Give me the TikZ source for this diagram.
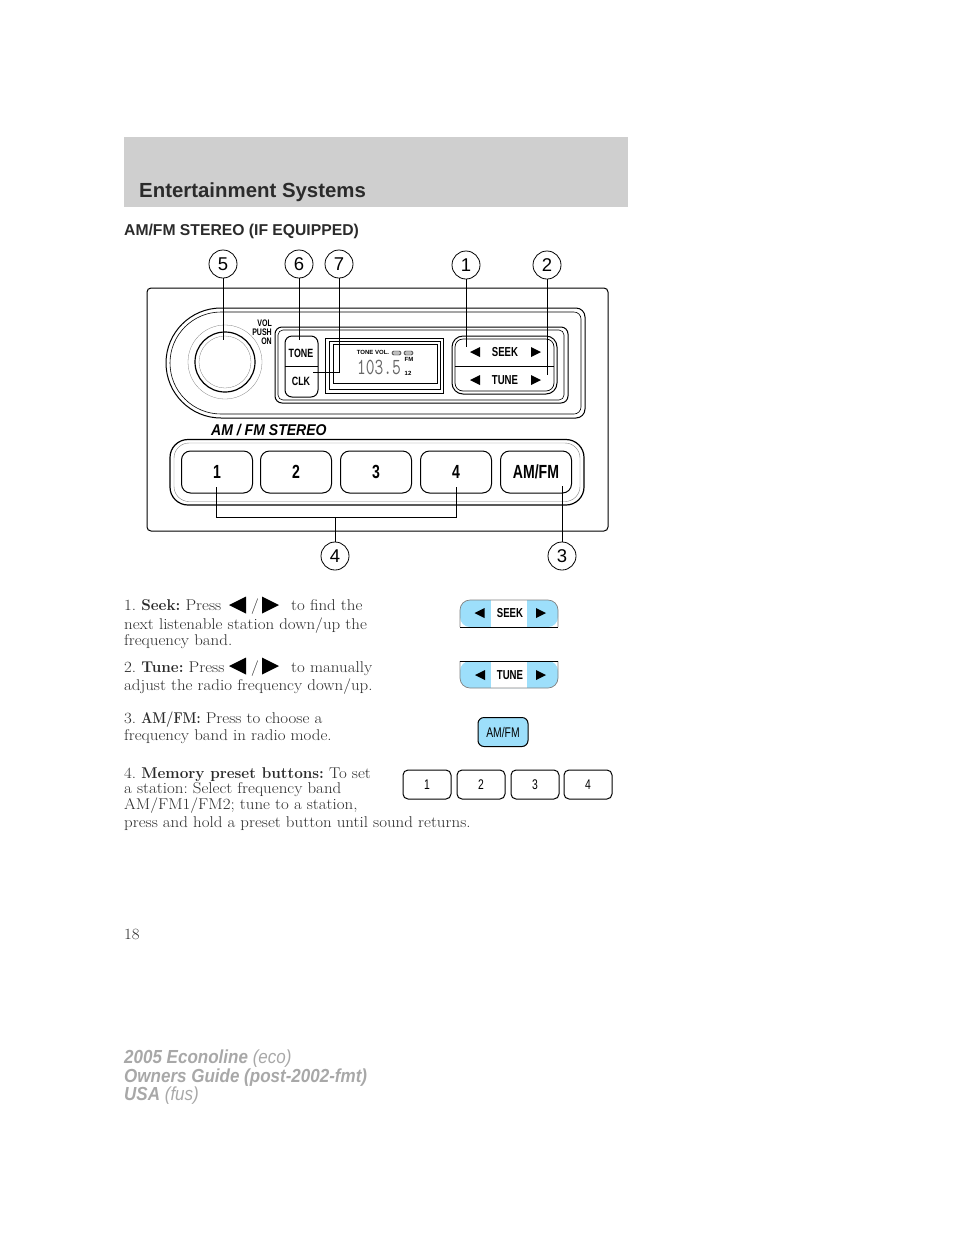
\documentclass[tikz,border=0pt]{standalone}
\usepackage{fontspec}
\usepackage{amsmath,amssymb}
\setmainfont[FakeStretch=1.085,BoldFeatures={FakeStretch=0.98}]{Latin Modern Roman}
\newfontfamily\hvfont{Liberation Sans}
\newfontfamily\hvslim[FakeStretch=0.9]{Liberation Sans}
\definecolor{cband}{HTML}{cfcfcf}
\definecolor{cblue}{HTML}{9ddffb}
\definecolor{cgrey}{HTML}{a8a8a8}
\definecolor{cink}{HTML}{2b2b2b}
\newcommand{\slimtxt}[1]{\scalebox{0.74}[1]{#1}}
\newcommand{\fsz}[1]{\fontsize{#1}{#1}\selectfont}
\frenchspacing
\tikzset{
  callout/.style={draw,circle,line width=0.8pt,minimum size=28pt,inner sep=0pt,font=\hvfont\fsz{18.5}},
  leader/.style={line width=1pt},
  body/.style={anchor=base west,inner sep=0pt,text=cink,font=\fsz{15.6}},
  foot/.style={anchor=base west,inner sep=0pt,text=cgrey,font=\hvslim\fsz{18.9}},
  keycap/.style={draw,line width=1pt,rounded corners=9pt,inner sep=0pt,font=\hvfont\bfseries\fsz{19}},
  smallcap/.style={draw,line width=1pt,rounded corners=5pt,inner sep=0pt,minimum width=48pt,minimum height=29pt,font=\hvfont\fsz{14}},
  tag/.style={inner sep=0pt,font=\hvfont\bfseries\fsz{13}},
  tinytag/.style={inner sep=0pt,font=\hvfont\bfseries\fsz{6}},
  tril/.pic={\fill (-5,0) -- (5,-5) -- (5,5) -- cycle;},
  trir/.pic={\fill (5,0) -- (-5,-5) -- (-5,5) -- cycle;}
}

\begin{document}
\begin{tikzpicture}[x=1pt,y=-1pt]
  \useasboundingbox (0,0) rectangle (954,1235);
  % header
  \fill[cband] (124,137) rectangle (628,207);
  \node[anchor=base west,inner sep=0pt,text=cink,font=\hvfont\bfseries\fsz{20.4}] (title) at (139,197) {Entertainment Systems};
  \node[anchor=base west,inner sep=0pt,text=cink,font=\hvfont\bfseries\fsz{15.7}] (section) at (124,235) {AM/FM STEREO (IF EQUIPPED)};

  % radio
  \draw[line width=1pt,rounded corners=4pt] (147,288) rectangle (608,531);
  \draw[line width=1pt] [rounded corners=9pt] (300,308) -- (585,308) -- (585,418) [rounded corners=55pt] -- (166,418) -- (166,308) -- (300,308);
  \draw[line width=0.6pt] [rounded corners=7pt] (300,312) -- (581,312) -- (581,414) [rounded corners=51pt] -- (170,414) -- (170,312) -- (300,312);
  \draw[line width=0.3pt,gray] (225,362) circle (37);
  \draw[line width=1.2pt] (225,362) circle (30);
  \draw[line width=0.3pt,gray] (225,362) circle (26);
  \node[tag,font=\hvfont\bfseries\fsz{9.5},anchor=east] (vol) at (272,323.5) {\slimtxt{VOL}};
  \node[tag,font=\hvfont\bfseries\fsz{9.5},anchor=east] (push) at (272,332) {\slimtxt{PUSH}};
  \node[tag,font=\hvfont\bfseries\fsz{9.5},anchor=east] (on) at (272,341) {\slimtxt{ON}};

  \draw[line width=1pt,rounded corners=7pt] (275,327) rectangle (568,403);
  \draw[line width=0.6pt,rounded corners=5pt] (278,330) rectangle (564,400);

  % tone and clock
  \draw[line width=1pt,rounded corners=7pt] (285,336) rectangle (318,397);
  \draw[line width=1pt] (285,366) -- (318,366);
  \node[tag,font=\hvfont\bfseries\fsz{12}] (tone) at (301,353) {\slimtxt{TONE}};
  \node[tag,font=\hvfont\bfseries\fsz{12}] (clk) at (301,381) {\slimtxt{CLK}};

  % display
  \draw[line width=1pt] (325,338) rectangle (443,393);
  \draw[line width=1pt] (325,393) -- (443,393);
  \draw[line width=0.7pt] (329,341) rectangle (440,389.5);
  \draw[line width=0.7pt] (333,344) rectangle (437,383);
  \node[tinytag] (tonevol) at (373,352.5) {TONE VOL.};
  \draw[line width=0.4pt,fill=gray!50,rounded corners=1.5pt] (392,351) rectangle (401,355);
  \draw[line width=0.4pt,fill=gray!50,rounded corners=1.5pt] (404,351) rectangle (413,355);
  \node[tinytag] (band) at (409,359) {FM};
  \node[tinytag] (preset) at (408,373) {12};
  \node[inner sep=0pt,text=black!60,font=\ttfamily\fsz{23}] (freq) at (379,367) {\slimtxt{103.5}};

  % seek and tune
  \draw[line width=1pt,rounded corners=11pt] (452,336) rectangle (557,394);
  \draw[line width=0.7pt,rounded corners=8pt] (455,339) rectangle (554,391);
  \draw[line width=1pt] (455,366) -- (554,366);
  \node[tag] (seek) at (505,352.5) {\slimtxt{SEEK}};
  \node[tag] (tune) at (505,380) {\slimtxt{TUNE}};
  \pic at (475,352) {tril};
  \pic at (536,352) {trir};
  \pic at (475,380) {tril};
  \pic at (536,380) {trir};

  \node[anchor=base west,inner sep=0pt,font=\hvslim\bfseries\itshape\fsz{15.6}] (model) at (211,435.5) {AM / FM STEREO};

  % preset row
  \draw[line width=1.2pt,rounded corners=18pt] (170,439.5) rectangle (584,505);
  \draw[line width=0.4pt,gray,rounded corners=15pt] (174,443) rectangle (580,501.5);
  \foreach \k/\xa/\lab in {1/181/1,2/260/2,3/340/3,4/420/4,5/500/{AM/FM}}{
    \node[keycap,anchor=north west,minimum width=71pt,minimum height=42pt] (key\k) at (\xa,450.5) {\slimtxt{\lab}};
  }

  % callouts
  \node[callout] (c5) at (223,264) {5};
  \node[callout] (c6) at (299,264) {6};
  \node[callout] (c7) at (339,264) {7};
  \node[callout] (c1) at (466,265) {1};
  \node[callout] (c2) at (547,265) {2};
  \node[callout] (c4) at (335,556) {4};
  \node[callout] (c3) at (562,556) {3};
  \coordinate (e5) at (223,340);
  \coordinate (e6) at (299,340);
  \coordinate (b7) at (339,372);
  \coordinate (e7) at (313,372);
  \coordinate (e1) at (466,347);
  \coordinate (e2) at (547,375);
  \coordinate (e3) at (562,486);
  \coordinate (m1) at (216,487);
  \coordinate (k1) at (216,517);
  \coordinate (m4) at (456,487);
  \coordinate (k4) at (456,517);
  \coordinate (km) at (335,517);
  \draw[leader] (c5) -- (e5);
  \draw[leader] (c6) -- (e6);
  \draw[leader] (c7) -- (b7) -- (e7);
  \draw[leader] (c1) -- (e1);
  \draw[leader] (c2) -- (e2);
  \draw[leader] (c3) -- (e3);
  \draw[leader] (m1) -- (k1) -- (k4) -- (m4);
  \draw[leader] (c4) -- (km);

  % text column
  \node[body] (s1a) at (124,610) {1. \textbf{Seek:} Press};
  \pic[scale=1.7] at (237.5,605) {tril};
  \node[body] (s1b) at (251,610) {/};
  \pic[scale=1.7] at (270.5,605) {trir};
  \node[body] (s1c) at (291,610) {to find the};
  \node[body] (s1d) at (124,629.5) {next listenable station down/up the};
  \node[body] (s1e) at (124,645) {frequency band.};
  \node[body] (s2a) at (124,672) {2. \textbf{Tune:} Press};
  \pic[scale=1.7] at (237.5,666) {tril};
  \node[body] (s2b) at (251,672) {/};
  \pic[scale=1.7] at (270.5,666) {trir};
  \node[body] (s2c) at (291,672) {to manually};
  \node[body] (s2d) at (124,690) {adjust the radio frequency down/up.};
  \node[body] (s3a) at (124,723) {3. \textbf{\scalebox{0.85}[1]{AM/FM:}} Press to choose a};
  \node[body] (s3b) at (124,740) {frequency band in radio mode.};
  \node[body] (s4a) at (124,778) {4. \textbf{Memory preset buttons:} To set};
  \node[body] (s4b) at (124,793) {a station: Select frequency band};
  \node[body] (s4c) at (124,809) {AM/FM1/FM2; tune to a station,};
  \node[body] (s4d) at (124,827) {press and hold a preset button until sound returns.};

  % control icons
  \fill[cblue,rounded corners=10pt] (460,627) -- (460,600) -- (558,600) -- (558,627) -- cycle;
  \fill[white] (491,600) rectangle (527,627);
  \draw[line width=0.7pt,gray,rounded corners=10pt] (460,627) -- (460,600) -- (558,600) -- (558,627);
  \draw[line width=1pt] (460,627) -- (558,627);
  \node[tag] (seekb) at (510,613) {\slimtxt{SEEK}};
  \pic at (479.5,613) {tril};
  \pic at (541,613) {trir};

  \fill[cblue,rounded corners=10pt] (460,661) -- (460,688) -- (558,688) -- (558,661) -- cycle;
  \fill[white] (491,661) rectangle (527,688);
  \draw[line width=0.7pt,gray,rounded corners=10pt] (460,661) -- (460,688) -- (558,688) -- (558,661);
  \draw[line width=1pt] (460,661) -- (558,661);
  \node[tag] (tuneb) at (510,675) {\slimtxt{TUNE}};
  \pic at (480,675) {tril};
  \pic at (541,675) {trir};

  \node[draw,line width=1pt,fill=cblue,rounded corners=6pt,inner sep=0pt,minimum width=50pt,minimum height=29pt,font=\hvfont\fsz{14}] (amfmb) at (503,732) {\slimtxt{AM/FM}};
  \foreach \k/\xb in {1/427,2/481,3/535,4/588}{
    \node[smallcap] (pre\k) at (\xb,784.5) {\slimtxt{\k}};
  }

  % footer
  \node[body] (page) at (124,939) {18};
  \node[foot] (f1) at (124,1063) {\textbf{\itshape 2005 Econoline} \textit{(eco)}};
  \node[foot] (f2) at (124,1082) {\textbf{\itshape Owners Guide (post-2002-fmt)}};
  \node[foot] (f3) at (124,1100) {\textbf{\itshape USA} \textit{(fus)}};
\end{tikzpicture}
\end{document}
